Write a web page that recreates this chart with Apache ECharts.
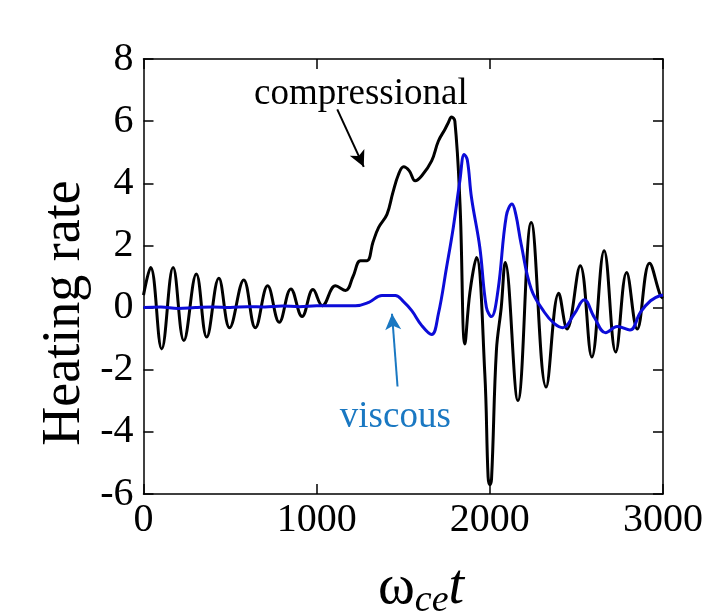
<!DOCTYPE html>
<html>
<head>
<meta charset="utf-8">
<script src="https://cdn.jsdelivr.net/npm/echarts@6/dist/echarts.min.js"></script>
<style>html,body{margin:0;padding:0;background:#fff;}#c{width:706px;height:613px;}</style>
</head>
<body>
<div id="c"></div>
<script>
// time values (omega_ce t) and heating rates
const compT = [0,41,105,171,233,305,365,435,497,579,646,717,784,851,916,979,1033,1109,1167,1210,1253,1291,1325,1358,1406,1440,1473,1502,1535,1569,1607,1664,1703,1741,1760,1779,1798,1828,1856,1885,1923,1971,1990,2000,2010,2038,2066,2089,2162,2239,2325,2398,2446,2522,2589,2660,2727,2790,2851,2922,2985,3000];
const compV = [0.4,1.29,-1.33,1.29,-1.06,1.08,-0.95,0.94,-0.65,0.89,-0.65,0.70,-0.47,0.60,-0.29,0.58,0.06,0.70,0.55,1.0,1.51,1.51,2.1,2.58,3.0,3.7,4.29,4.53,4.4,4.08,4.24,4.72,5.36,5.74,5.95,6.13,6.0,3.3,-1.17,0.49,1.61,-2.13,-5.45,-5.7,-5.5,-1.38,0.01,1.45,-2.99,2.74,-2.56,0.46,-0.69,1.35,-1.59,1.83,-1.43,1.13,-0.69,1.43,0.39,0.3];
const viscT = [0,100,200,300,400,500,600,700,800,900,1000,1100,1224,1301,1377,1454,1500,1549,1607,1664,1703,1750,1789,1827,1852,1870,1894,1942,1980,2009,2047,2095,2128,2150,2181,2239,2315,2373,2421,2488,2545,2603,2669,2736,2809,2870,2928,2985,3000];
const viscV = [0,0.02,-0.03,0,0.02,0,0.03,0.02,0.05,0.03,0.06,0.06,0.06,0.17,0.39,0.39,0.2,-0.1,-0.58,-0.87,-0.2,1.29,2.58,4.08,4.93,4.75,3.54,1.94,0.01,-0.29,0.55,2.95,3.33,3.0,2.04,0.6,-0.15,-0.52,-0.65,-0.2,0.25,-0.31,-0.81,-0.61,-0.72,-0.15,0.22,0.39,0.4];
const xTicks = [0,1000,2000,3000];
const yTicks = [-6,-4,-2,0,2,4,6,8];
// annotation anchors in data coordinates
const compLabel = [1255, 6.85];
const compArrow = [[1119, 6.38],[1272, 4.53]];
const viscLabel = [1454, -3.53];
const viscArrow = [[1467, -2.54],[1435, -0.2]];

const serif = "'Liberation Serif','Times New Roman',serif";
const chart = echarts.init(document.getElementById('c'), null, {renderer:'canvas'});
const axisLine = {show:true, onZero:false, lineStyle:{color:'#000', width:1.5}};
const tickIn = {show:true, inside:true, length:10, lineStyle:{color:'#000', width:1.5}};
chart.setOption({
  animation:false,
  backgroundColor:'#fff',
  grid:{left:143.5, right:40, top:59, bottom:119, containLabel:false},
  xAxis:[
    {type:'value', min:0, max:3000, interval:1000, axisLine, axisTick:tickIn, splitLine:{show:false},
     axisLabel:{fontFamily:serif, fontSize:40, color:'#000', margin:6,
       formatter:v=>xTicks.includes(v)?String(v):''}},
    {type:'value', position:'top', min:0, max:3000, interval:1000, axisLine, axisTick:tickIn, splitLine:{show:false}, axisLabel:{show:false}}
  ],
  yAxis:[
    {type:'value', min:-6, max:8, interval:2, axisLine, axisTick:tickIn, splitLine:{show:false},
     axisLabel:{fontFamily:serif, fontSize:40, color:'#000', margin:10,
       formatter:v=>yTicks.includes(v)?String(v):''}},
    {type:'value', position:'right', min:-6, max:8, interval:2, axisLine, axisTick:tickIn, splitLine:{show:false}, axisLabel:{show:false}}
  ],
  series:[
    {type:'line', name:'compressional', data:compT.map((t,i)=>[t,compV[i]]), showSymbol:false, smooth:0.4,
     lineStyle:{color:'#000', width:3}, z:3,
     markLine:{silent:true, symbol:['none','arrow'], symbolSize:[12,16], label:{show:false},
       lineStyle:{color:'#000', width:2, type:'solid'},
       data:[[{coord:compArrow[0]},{coord:compArrow[1]}]]},
     markPoint:{silent:true, symbol:'circle', symbolSize:0,
       data:[{coord:compLabel, label:{show:true, position:'inside', formatter:'compressional', fontFamily:serif, fontSize:37, color:'#000'}}]}
    },
    {type:'line', name:'viscous', data:viscT.map((t,i)=>[t,viscV[i]]), showSymbol:false, smooth:0.4,
     lineStyle:{color:'#0c0cd8', width:3}, z:4,
     markLine:{silent:true, symbol:['none','arrow'], symbolSize:[12,16], label:{show:false},
       lineStyle:{color:'#1a78c2', width:2, type:'solid'},
       data:[[{coord:viscArrow[0]},{coord:viscArrow[1]}]]},
     markPoint:{silent:true, symbol:'circle', symbolSize:0,
       data:[{coord:viscLabel, label:{show:true, position:'inside', formatter:'viscous', fontFamily:serif, fontSize:37, color:'#1a78c2'}}]}
    }
  ],
  graphic:[
    {type:'text', x:65, y:313, rotation:Math.PI/2, style:{text:'Heating rate', font:"54px 'Liberation Serif'", fill:'#000', align:'center', verticalAlign:'middle'}},
    {type:'text', x:378, y:556, style:{text:'{w|ω}{s|ce}{t|t}', rich:{
      w:{fontFamily:serif, fontSize:56, fill:'#000'},
      s:{fontFamily:serif, fontStyle:'italic', fontSize:38, fill:'#000', padding:[26,0,0,0]},
      t:{fontFamily:serif, fontStyle:'italic', fontSize:56, fill:'#000'}}}}
  ]
});
</script>
</body>
</html>
